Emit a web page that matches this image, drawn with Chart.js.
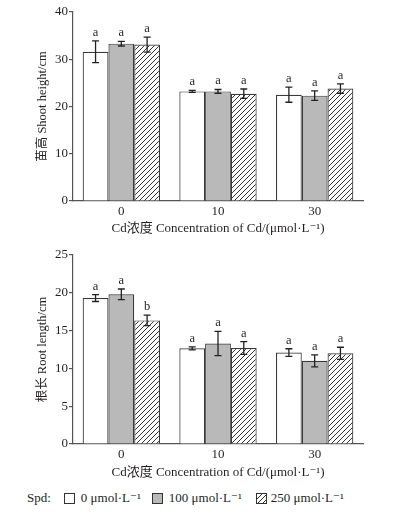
<!DOCTYPE html>
<html>
<head>
<meta charset="utf-8">
<script src="https://cdn.jsdelivr.net/npm/chart.js@4"></script>
<style>
  html, body { margin: 0; padding: 0; background: #fff; }
  #wrap { position: relative; width: 402px; height: 513px; }
  canvas { display: block; }
  #legend {
    position: absolute; left: 27px; top: 488px; height: 20px;
    font-family: "Liberation Serif", "DejaVu Serif", serif; font-size: 13px; color: #231f20;
    display: flex; align-items: center; white-space: nowrap;
  }
  #legend .box { width: 9px; height: 9px; border: 1px solid #333; display: inline-block; margin-right: 6px; }
  #legend .item { display: flex; align-items: center; }
</style>
</head>
<body>
<div id="wrap">
  <canvas id="shootChart" width="402" height="240"></canvas>
  <canvas id="rootChart" width="402" height="245"></canvas>
  <div id="legend">
    <span style="margin-right:13px">Spd:</span>
    <span class="item" style="margin-right:11px"><span class="box" style="background:#fff"></span>0 μmol·L⁻¹</span>
    <span class="item" style="margin-right:14px"><span class="box" style="background:#b9b9b9"></span>100 μmol·L⁻¹</span>
    <span class="item"><span class="box" id="hatchBox" style="margin-right:4px"></span>250 μmol·L⁻¹</span>
  </div>
</div>
<script>
const categories = ["0", "10", "30"];
const spdLabels = ["0 μmol·L⁻¹", "100 μmol·L⁻¹", "250 μmol·L⁻¹"];

// shoot height (cm)
const shoot0 = [31.6, 23.2, 22.5];
const shoot100 = [33.3, 23.2, 22.3];
const shoot250 = [33.1, 22.7, 23.8];
const shootErr0 = [2.3, 0.2, 1.6];
const shootErr100 = [0.5, 0.4, 1.0];
const shootErr250 = [1.6, 1.0, 1.0];
const shootSig0 = ["a", "a", "a"];
const shootSig100 = ["a", "a", "a"];
const shootSig250 = ["a", "a", "a"];
const shootTicks = [0, 10, 20, 30, 40];

// root length (cm)
const root0 = [19.3, 12.65, 12.1];
const root100 = [19.8, 13.3, 11.0];
const root250 = [16.35, 12.7, 12.0];
const rootErr0 = [0.45, 0.2, 0.5];
const rootErr100 = [0.7, 1.6, 0.8];
const rootErr250 = [0.7, 0.85, 0.8];
const rootSig0 = ["a", "a", "a"];
const rootSig100 = ["a", "a", "a"];
const rootSig250 = ["b", "a", "a"];
const rootTicks = [0, 5, 10, 15, 20, 25];

const SERIF = '"Liberation Serif", "DejaVu Serif", "Noto Sans CJK SC", serif';
const INK = "#231f20";
const AXIS = "#555";

function hatch() {
  const c = document.createElement("canvas");
  c.width = 5; c.height = 5;
  const g = c.getContext("2d");
  g.fillStyle = "#fff";
  g.fillRect(0, 0, 5, 5);
  g.strokeStyle = "#333";
  g.lineWidth = 1;
  g.beginPath();
  g.moveTo(-1, 6); g.lineTo(6, -1);
  g.moveTo(-1, 1); g.lineTo(1, -1);
  g.moveTo(4, 6); g.lineTo(6, 4);
  g.stroke();
  return c;
}
const hatchTile = hatch();
document.getElementById("hatchBox").style.background = "url(" + hatchTile.toDataURL() + ")";

// error bars + significance letters
const errorBars = {
  id: "errorBars",
  afterDatasetsDraw(chart) {
    const { ctx, scales: { y } } = chart;
    ctx.save();
    chart.data.datasets.forEach((ds, i) => {
      chart.getDatasetMeta(i).data.forEach((bar, j) => {
        const hi = y.getPixelForValue(ds.data[j] + ds.errors[j]);
        const lo = y.getPixelForValue(ds.data[j] - ds.errors[j]);
        const x = bar.x;
        ctx.strokeStyle = "#222";
        ctx.lineWidth = 1.3;
        ctx.beginPath();
        ctx.moveTo(x, hi); ctx.lineTo(x, lo);
        ctx.moveTo(x - 3.5, hi); ctx.lineTo(x + 3.5, hi);
        ctx.moveTo(x - 3.5, lo); ctx.lineTo(x + 3.5, lo);
        ctx.stroke();
        ctx.fillStyle = INK;
        ctx.font = "12.5px " + SERIF;
        ctx.textAlign = "center";
        ctx.textBaseline = "alphabetic";
        ctx.fillText(ds.letters[j], x, hi - 5);
      });
    });
    ctx.restore();
  }
};

function makeChart(id, series, errs, sigs, ticks, yTitle, padTop, xHeight, titlePad) {
  const ctx = document.getElementById(id).getContext("2d");
  const pattern = ctx.createPattern(hatchTile, "repeat");
  const fills = ["#ffffff", "#b9b9b9", pattern];
  const datasets = series.map((d, i) => ({
    label: spdLabels[i],
    data: d,
    errors: errs[i],
    letters: sigs[i],
    backgroundColor: fills[i],
    borderColor: "#3a3a3a",
    borderWidth: 1.2,
    categoryPercentage: 0.8,
    barPercentage: 1.0,
  }));
  return new Chart(ctx, {
    type: "bar",
    data: { labels: categories, datasets: datasets },
    options: {
      responsive: false,
      animation: false,
      events: [],
      layout: { padding: { top: padTop, right: 39, left: 0, bottom: 0 } },
      plugins: { legend: { display: false }, tooltip: { enabled: false } },
      scales: {
        x: {
          grid: { display: false, drawTicks: false, tickLength: 0 },
          border: { display: true, color: AXIS, width: 1.2 },
          ticks: { color: INK, padding: 3, font: { family: SERIF, size: 13 } },
          title: {
            display: true,
            text: "Cd浓度 Concentration of Cd/(μmol·L⁻¹)",
            color: INK,
            font: { family: SERIF, size: 13 },
            padding: { top: 0, bottom: titlePad },
          },
          afterFit(s) { s.height = xHeight; },
        },
        y: {
          min: ticks[0],
          max: ticks[ticks.length - 1],
          afterBuildTicks(s) { s.ticks = ticks.map(v => ({ value: v })); },
          grid: { drawOnChartArea: false, drawTicks: true, tickLength: 4, color: AXIS, lineWidth: 1.2 },
          border: { display: true, color: AXIS, width: 1.2 },
          ticks: { color: INK, padding: 1, font: { family: SERIF, size: 13 } },
          title: {
            display: true,
            text: yTitle,
            color: INK,
            font: { family: SERIF, size: 12.5 },
            padding: { top: 35, bottom: 0 },
          },
          afterFit(s) { s.width = 73; },
        },
      },
    },
    plugins: [errorBars],
  });
}

makeChart("shootChart",
  [shoot0, shoot100, shoot250],
  [shootErr0, shootErr100, shootErr250],
  [shootSig0, shootSig100, shootSig250],
  shootTicks, "苗高 Shoot height/cm", 12, 39, 4);

makeChart("rootChart",
  [root0, root100, root250],
  [rootErr0, rootErr100, rootErr250],
  [rootSig0, rootSig100, rootSig250],
  rootTicks, "根长 Root length/cm", 15, 41, 5);
</script>
</body>
</html>
